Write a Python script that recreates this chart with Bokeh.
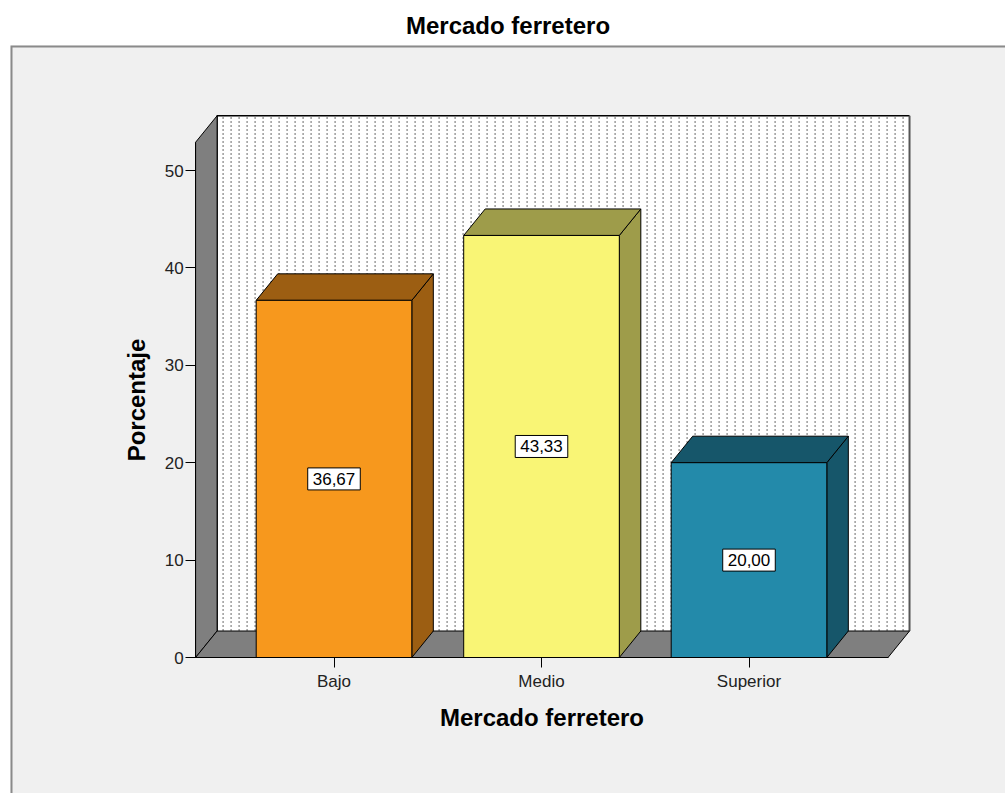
import numpy as np
from bokeh.plotting import figure
from bokeh.models import LinearAxis, FixedTicker, Range1d
from bokeh.core.properties import value
from bokeh.embed import file_html
from bokeh.resources import INLINE

# ---- data ----
categories = ["Bajo", "Medio", "Superior"]
percentages = [36.67, 43.33, 20.00]
y_ticks = [0, 10, 20, 30, 40, 50]
title_text = "Mercado ferretero"
x_title = "Mercado ferretero"
y_title = "Porcentaje"

front_colors = ["#F7981D", "#F9F575", "#238AAA"]
dark_colors = ["#9C5E12", "#9E9C4A", "#16566A"]

FONT = "Liberation Sans"

# ---- geometry (layout only) ----
W, H = 1005, 793
BL, BT = 10, 45            # frame offset
PX_X = 207.5               # px per category step
X0_PX = 333.5              # pixel of first category
PX_Y = 9.74                # px per percent
Y0_PX = 657                # pixel of 0%
x_start = (BL - X0_PX) / PX_X
x_end = (W - X0_PX) / PX_X
y_end = (Y0_PX - BT) / PX_Y
y_start = -(H - Y0_PX) / PX_Y

XL, XR = -0.667, 2.67      # floor front edges
DX, DY = 21.5 / PX_X, 26.5 / PX_Y
TOP = 52.9
BW = 0.375                 # half bar width

p = figure(width=W, height=H, output_backend="svg", toolbar_location=None,
           x_range=Range1d(x_start, x_end), y_range=Range1d(y_start, y_end),
           min_border_left=BL, min_border_right=0, min_border_top=BT, min_border_bottom=0,
           x_axis_type=None, y_axis_type=None)
p.grid.visible = False
p.background_fill_color = "#F0F0F0"
p.border_fill_color = "white"
p.outline_line_color = None

p.title.text = title_text
p.title.align = "center"
p.title.text_font = FONT
p.title.text_font_size = "24px"
p.title.text_font_style = "bold"
p.title.text_color = "black"
p.title.standoff = 13
p.title.offset = 6

# frame border (top and left)
p.line(x=[x_start, x_start, x_end], y=[y_start, y_end, y_end], line_color="#8A8A8A", line_width=4)

# back wall
p.quad(left=[XL + DX], right=[XR + DX], bottom=[DY], top=[TOP + DY],
       fill_color="white", line_color=None)
dots_x = np.arange(XL + DX + 6 / PX_X, XR + DX - 2 / PX_X, 8 / PX_X)
p.segment(x0=dots_x, y0=DY, x1=dots_x, y1=TOP + DY, line_color="#8C8C8C",
          line_width=1.3, line_dash="2 2")
p.line(x=[XL + DX, XL + DX, XR + DX], y=[DY, TOP + DY, TOP + DY], line_color="black", line_width=1.5)
p.line(x=[XR + DX, XR + DX], y=[DY, TOP + DY], line_color="#555555", line_width=2)

# left wall
p.patch(x=[XL, XL, XL + DX, XL + DX], y=[0, TOP, TOP + DY, DY],
        fill_color="#7F7F7F", line_color="black", line_width=1)
# floor
p.patch(x=[XL, XL + DX, XR + DX, XR], y=[0, DY, DY, 0],
        fill_color="#7F7F7F", line_color="black", line_width=1)

# bars
xs = list(range(len(categories)))
tops_x, tops_y, sides_x, sides_y = [], [], [], []
for x, v in zip(xs, percentages):
    x0, x1 = x - BW, x + BW
    tops_x.append([x0, x0 + DX, x1 + DX, x1])
    tops_y.append([v, v + DY, v + DY, v])
    sides_x.append([x1, x1, x1 + DX, x1 + DX])
    sides_y.append([0, v, v + DY, DY])
p.patches(xs=sides_x, ys=sides_y, fill_color=dark_colors, line_color="black", line_width=1)
p.patches(xs=tops_x, ys=tops_y, fill_color=dark_colors, line_color="black", line_width=1)
p.quad(left=[x - BW for x in xs], right=[x + BW for x in xs], bottom=0, top=percentages,
       fill_color=front_colors, line_color="black", line_width=1)

labels = [f"{v:.2f}".replace(".", ",") for v in percentages]
p.text(x=xs, y=[v / 2 for v in percentages], text=labels, text_align="center",
       text_baseline="middle", text_font=value(FONT), text_font_size="17px",
       text_color="black", background_fill_color="white", border_line_color="black",
       border_line_width=1, padding=(5, 5))

# axes
yaxis = LinearAxis(fixed_location=XL, bounds=(0, TOP), ticker=FixedTicker(ticks=y_ticks),
                   axis_label=y_title)
yaxis.axis_line_color = "black"
yaxis.major_tick_out = 10
yaxis.major_tick_in = 0
yaxis.minor_tick_line_color = None
yaxis.major_tick_line_color = "black"
yaxis.major_label_standoff = 2
yaxis.major_label_text_font = FONT
yaxis.major_label_text_font_size = "17px"
yaxis.major_label_text_color = "#222222"
yaxis.axis_label_text_font = FONT
yaxis.axis_label_text_font_size = "24px"
yaxis.axis_label_text_font_style = "bold"
yaxis.axis_label_text_color = "black"
yaxis.axis_label_standoff = 12
p.add_layout(yaxis, "left")

xaxis = LinearAxis(fixed_location=0, bounds=(XL, XR), ticker=FixedTicker(ticks=xs),
                   axis_label=x_title)
xaxis.major_label_overrides = {i: c for i, c in zip(xs, categories)}
xaxis.axis_line_color = "black"
xaxis.major_tick_out = 10
xaxis.major_tick_in = 0
xaxis.minor_tick_line_color = None
xaxis.major_tick_line_color = "black"
xaxis.major_label_standoff = 4
xaxis.major_label_text_font = FONT
xaxis.major_label_text_font_size = "17px"
xaxis.major_label_text_color = "#222222"
xaxis.axis_label_text_font = FONT
xaxis.axis_label_text_font_size = "24px"
xaxis.axis_label_text_font_style = "bold"
xaxis.axis_label_text_color = "black"
xaxis.axis_label_standoff = 10
p.add_layout(xaxis, "below")

open("out.html", "w").write(file_html(p, INLINE))
